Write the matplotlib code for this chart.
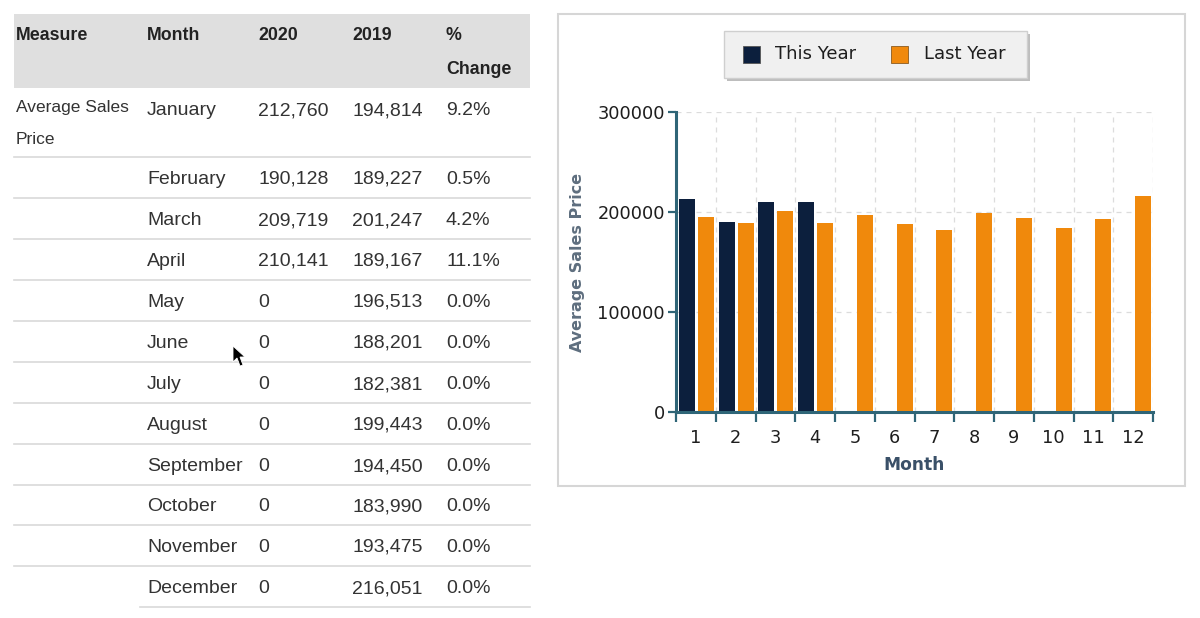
import matplotlib
matplotlib.use("Agg")
import matplotlib.pyplot as plt
from matplotlib.patches import Rectangle, Polygon
import numpy as np

# ---------------- data ----------------
month_names = ["January", "February", "March", "April", "May", "June", "July",
               "August", "September", "October", "November", "December"]
month_nums = list(range(1, 13))
this_year = [212760, 190128, 209719, 210141, 0, 0, 0, 0, 0, 0, 0, 0]
last_year = [194814, 189227, 201247, 189167, 196513, 188201, 182381,
             199443, 194450, 183990, 193475, 216051]
pct_change = ["9.2%", "0.5%", "4.2%", "11.1%", "0.0%", "0.0%", "0.0%",
              "0.0%", "0.0%", "0.0%", "0.0%", "0.0%"]
headers = ["Measure", "Month", "2020", "2019", "%"]
measure = "Average Sales"
measure2 = "Price"
y_ticks = [0, 100000, 200000, 300000]

W, H = 1200, 618
fig = plt.figure(figsize=(12, 6.18), dpi=100)
fig.patch.set_facecolor("white")


def fx(x):
    return x / W


def fy(y):
    return 1 - y / H


# ---------------- table ----------------
TF = "Liberation Sans"
txt_col = "#333333"
fig.patches.append(Rectangle((fx(14), fy(88)), fx(530) - fx(14), fy(14) - fy(88),
                             transform=fig.transFigure, facecolor="#dfdfdf",
                             edgecolor="none", zorder=-2))
col_x = [16, 147, 258, 352, 446]
for x, h in zip(col_x, headers):
    fig.text(fx(x), fy(33 + 6.5), h, fontsize=12.8, fontweight="bold", family=TF,
             color="#222222", va="baseline", ha="left")
fig.text(fx(446), fy(67 + 6.5), "Change", fontsize=12.8, fontweight="bold", family=TF,
         color="#222222", va="baseline", ha="left")

row_y = [108, 177, 218, 259, 300, 341, 382, 423, 464, 504, 545, 586]
fig.text(fx(16), fy(106 + 6.3), measure, fontsize=12.5, family=TF, color=txt_col,
         va="baseline", ha="left")
fig.text(fx(16), fy(138 + 6.3), measure2, fontsize=12.5, family=TF, color=txt_col,
         va="baseline", ha="left")
for i, y in enumerate(row_y):
    vals = [month_names[i], f"{this_year[i]:,}", f"{last_year[i]:,}", pct_change[i]]
    for x, v in zip(col_x[1:], vals):
        fig.text(fx(x), fy(y + 7), v, fontsize=14, family=TF, color=txt_col,
                 va="baseline", ha="left")

line_y = [157] + [(row_y[i] + row_y[i + 1]) / 2 + 0.5 for i in range(1, 11)]
for ly in line_y:
    fig.add_artist(plt.Line2D([fx(14), fx(530)], [fy(ly), fy(ly)],
                              transform=fig.transFigure, color="#d9d9d9", lw=1.2))
fig.add_artist(plt.Line2D([fx(140), fx(530)], [fy(607), fy(607)],
                          transform=fig.transFigure, color="#d9d9d9", lw=1.2))

# mouse cursor
cur = np.array([[233, 346], [233, 362], [237, 358], [240, 366], [243, 365],
                [240, 357], [245, 357]])
fig.patches.append(Polygon(np.column_stack([cur[:, 0] / W, 1 - cur[:, 1] / H]),
                           closed=True, transform=fig.transFigure,
                           facecolor="black", edgecolor="white", lw=0.6, zorder=5))

# ---------------- chart panel ----------------
fig.patches.append(Rectangle((fx(558), fy(486)), fx(1185) - fx(558), fy(14) - fy(486),
                             transform=fig.transFigure, facecolor="white",
                             edgecolor="#d6d6d6", lw=1.5, zorder=-2))

ax = fig.add_axes([fx(676), fy(412), fx(1153) - fx(676), fy(112) - fy(412)])
ax.set_zorder(3)
ax.set_facecolor("none")
navy = "#0c1f3d"
orange = "#f0890c"
x = np.arange(len(month_nums))
bw = 0.4
ax.bar(x - 0.225, this_year, width=bw, color=navy, zorder=3)
ax.bar(x + 0.25, last_year, width=bw, color=orange, zorder=3)
ax.set_xlim(-0.5, 11.5)
ax.set_ylim(0, 300000)

# grid
for b in np.arange(-0.5, 12, 1.0)[1:]:
    ax.axvline(b, color="#dcdcdc", lw=0.9, ls=(0, (4, 4)), zorder=1)
for yv in y_ticks[1:]:
    ax.axhline(yv, color="#dcdcdc", lw=0.9, ls=(0, (4, 4)), zorder=1)

for s in ["top", "right"]:
    ax.spines[s].set_visible(False)
axis_col = "#2f6577"
for s in ["left", "bottom"]:
    ax.spines[s].set_color(axis_col)
    ax.spines[s].set_linewidth(2.2)
    ax.spines[s].set_zorder(4)

CF = "DejaVu Sans"
ax.set_yticks(y_ticks)
ax.set_yticklabels([str(v) for v in y_ticks], fontsize=12.8, family=CF, color="#1e1e1e")
ax.tick_params(axis="y", length=6, width=1.6, color=axis_col, pad=2)
ax.set_xticks(np.arange(-0.5, 12, 1.0), minor=False)
ax.set_xticklabels([])
ax.set_xticks(x, minor=True)
ax.set_xticklabels([str(m) for m in month_nums], minor=True, fontsize=12.8,
                   family=CF, color="#1e1e1e")
ax.tick_params(axis="x", which="major", length=7, width=1.6, color=axis_col)
ax.tick_params(axis="x", which="minor", length=0, pad=12)

ax.set_xlabel("Month", fontsize=12.3, fontweight="bold", family=CF,
              color="#3a5068", labelpad=7)
ax.set_ylabel("Average Sales Price", fontsize=11.5, fontweight="bold", family=CF,
              color="#5e6e7e", labelpad=9)

# legend box
fig.patches.append(Rectangle((fx(727), fy(81)), fx(1030) - fx(727), fy(34) - fy(81),
                             transform=fig.transFigure, facecolor="#bdbdbd",
                             edgecolor="none", zorder=1))
fig.patches.append(Rectangle((fx(724), fy(78)), fx(1027) - fx(724), fy(31) - fy(78),
                             transform=fig.transFigure, facecolor="#f0f0f0",
                             edgecolor="#cfcfcf", lw=1, zorder=2))
fig.patches.append(Rectangle((fx(743), fy(63)), fx(760) - fx(743), fy(46) - fy(63),
                             transform=fig.transFigure, facecolor=navy,
                             edgecolor="#555555", lw=0.6, zorder=3))
fig.patches.append(Rectangle((fx(891), fy(63)), fx(908) - fx(891), fy(46) - fy(63),
                             transform=fig.transFigure, facecolor=orange,
                             edgecolor="#8a5a20", lw=0.6, zorder=3))
fig.text(fx(775), fy(54), "This Year", fontsize=13, family=CF, color="#1e1e1e",
         va="center", ha="left", zorder=4)
fig.text(fx(924), fy(54), "Last Year", fontsize=13, family=CF, color="#1e1e1e",
         va="center", ha="left", zorder=4)

fig.savefig("out.png", dpi=100)
